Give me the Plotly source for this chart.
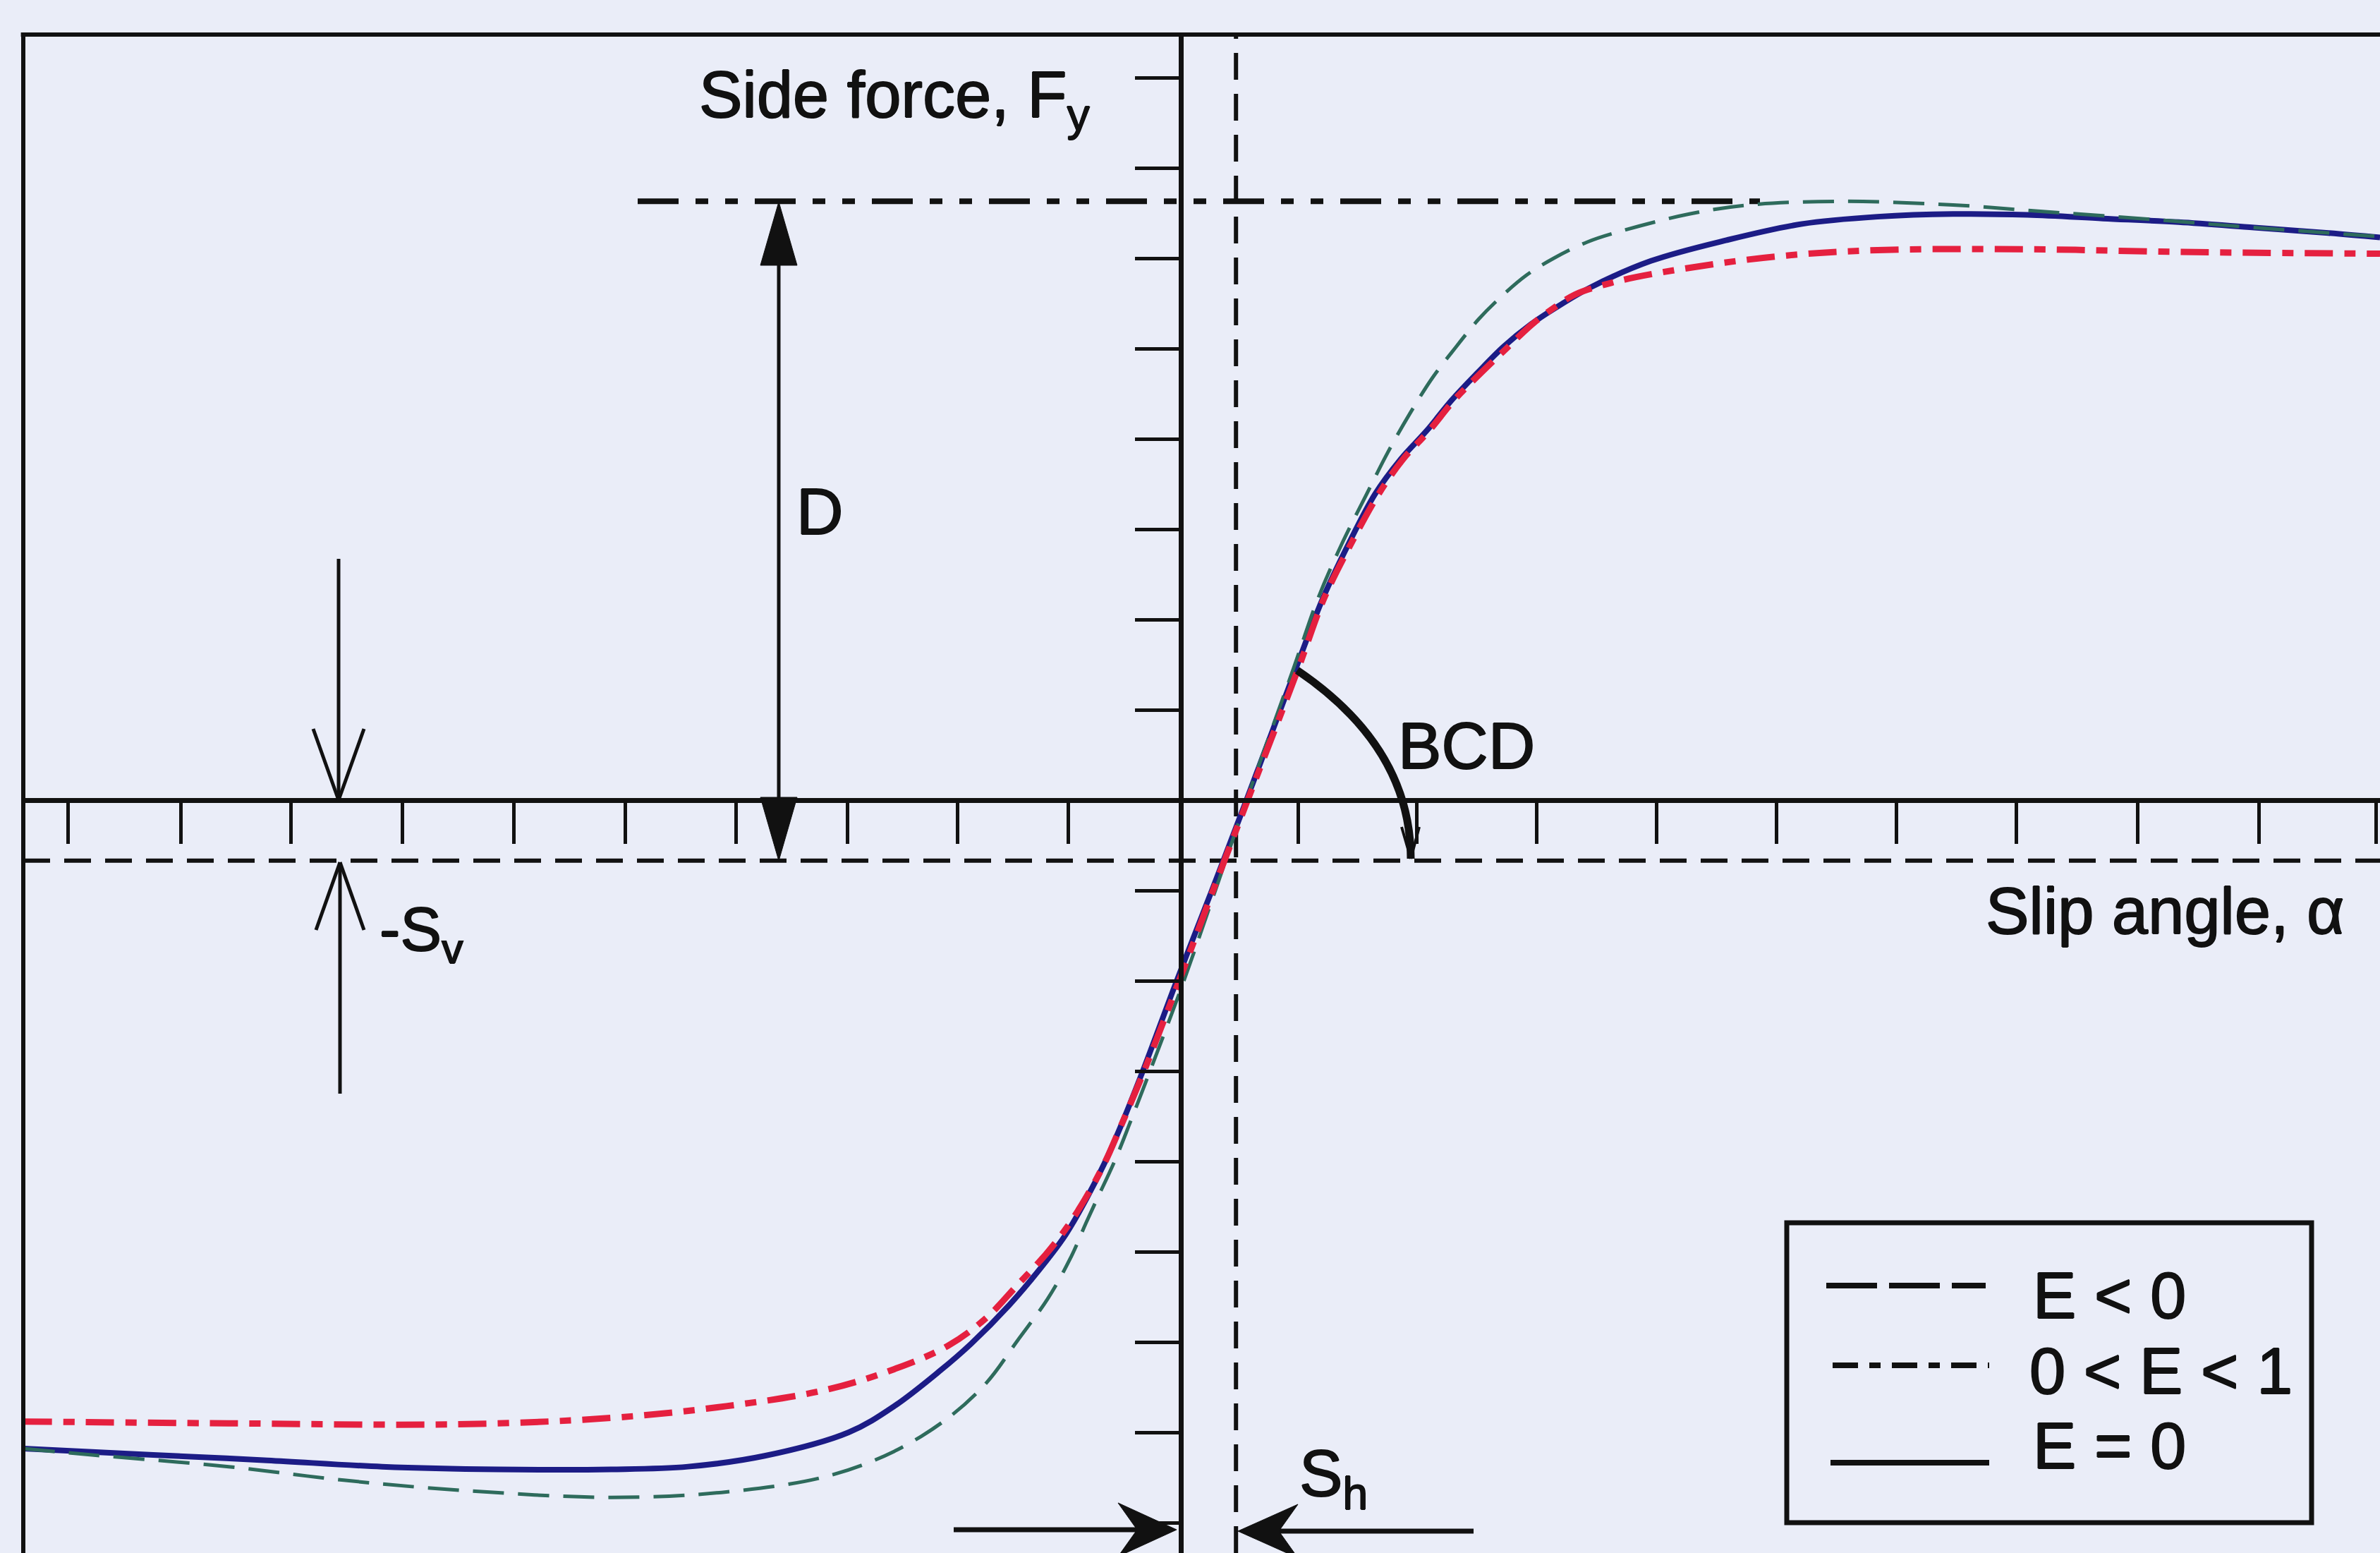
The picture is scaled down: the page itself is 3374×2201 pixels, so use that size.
import plotly.graph_objects as go

# ---------------- data ----------------
# x in slip-angle tick units (origin = solid vertical axis), y in side-force tick units
x_e_neg = [-9.65, -9.08, -7.94, -6.98, -6.02, -4.75, -3.79, -2.96, -2.39, -1.94, -1.62, -1.36,
           -1.11, -0.92, -0.79, -0.70, -0.55, -0.42, -0.26, 0.02, 0.28, 0.55, 0.94, 1.14, 1.34,
           1.55, 1.73, 1.91, 2.10, 2.29, 2.48, 2.66, 2.88, 3.11, 3.39, 3.67, 4.24, 4.74, 5.49,
           6.44, 7.06, 8.00, 8.95, 10.00]
y_e_neg = [-7.18, -7.25, -7.38, -7.53, -7.64, -7.72, -7.66, -7.49, -7.21, -6.84, -6.45, -5.98,
           -5.52, -5.07, -4.68, -4.42, -3.99, -3.56, -3.01, -2.02, -1.03, 0.01, 1.46, 2.22, 2.83,
           3.39, 3.86, 4.28, 4.68, 5.01, 5.32, 5.56, 5.81, 6.00, 6.18, 6.30, 6.49, 6.59, 6.63,
           6.59, 6.53, 6.44, 6.34, 6.24]

x_e_mid = [-9.65, -7.94, -6.02, -4.75, -3.79, -2.96, -2.39, -1.94, -1.62, -1.37, -1.12, -0.95,
           -0.80, -0.64, -0.51, -0.31, -0.02, 0.26, 0.56, 0.98, 1.19, 1.42, 1.65, 1.85, 2.07,
           2.28, 2.51, 2.73, 2.93, 3.11, 3.29, 3.54, 3.79, 4.42, 5.05, 5.81, 7.06, 8.32, 10.00]
y_e_mid = [-6.88, -6.90, -6.91, -6.84, -6.71, -6.53, -6.30, -6.04, -5.73, -5.38, -5.02, -4.73,
           -4.42, -4.03, -3.64, -3.01, -2.02, -1.03, 0.01, 1.46, 2.22, 2.84, 3.39, 3.77, 4.09,
           4.43, 4.74, 5.02, 5.27, 5.45, 5.60, 5.71, 5.79, 5.93, 6.03, 6.09, 6.10, 6.07, 6.05]

x_e_zero = [-9.65, -8.57, -7.62, -6.66, -5.70, -4.75, -4.11, -3.47, -2.77, -2.39, -2.01, -1.75,
            -1.43, -1.18, -0.96, -0.79, -0.64, -0.51, -0.32, -0.04, 0.25, 0.55, 0.96, 1.18,
            1.40, 1.62, 1.83, 2.05, 2.26, 2.48, 2.69, 2.92, 3.16, 3.42, 3.92, 4.55, 5.18, 5.81,
            6.44, 7.06, 7.69, 8.32, 8.95, 9.57, 10.00]
y_e_zero = [-7.18, -7.25, -7.31, -7.38, -7.41, -7.41, -7.38, -7.26, -7.00, -6.71, -6.32, -6.02,
            -5.59, -5.20, -4.81, -4.42, -4.03, -3.64, -3.01, -2.02, -1.03, 0.01, 1.46, 2.22,
            2.84, 3.39, 3.77, 4.09, 4.43, 4.74, 5.02, 5.27, 5.48, 5.68, 5.97, 6.20, 6.38, 6.46,
            6.49, 6.48, 6.44, 6.40, 6.34, 6.28, 6.23]

series_names = ["E < 0", "0 < E < 1", "E = 0"]

x_tick_positions = [-9.28, -8.34, -7.42, -6.49, -5.56, -4.63, -3.71, -2.78, -1.86, -0.94,
                    0.98, 1.97, 2.97, 3.97, 4.97, 5.97, 6.97, 7.98, 8.99, 9.97]
y_tick_positions = [-8, -7, -6, -5, -4, -3, -2, -1, 1, 2, 3, 4, 5, 6, 7, 8]

peak_D = 6.63      # level of the peak (dash-dot line)
shift_v = -0.67    # Sv offset (dashed horizontal)
shift_h = 0.46     # Sh offset (dashed vertical)

# ---------------- geometry / style ----------------
W, H = 3374, 2201
OX, OY = 1674.0, 1134.0    # pixel position of the axes origin
SX, SY = 170.0, 128.0      # pixels per unit
FRAME_L, FRAME_T = 33.0, 49.0

def dx(px):
    return (px - OX) / SX

def dy(py):
    return (OY - py) / SY

x_range = [dx(FRAME_L), dx(W)]
y_range = [dy(H), dy(FRAME_T)]
x_dom = [FRAME_L / W, 1.0]
y_dom = [0.0, 1.0 - FRAME_T / H]
pos_y_axis = x_dom[0] + (0 - x_range[0]) / (x_range[1] - x_range[0]) * (x_dom[1] - x_dom[0])
pos_x_axis = y_dom[0] + (0 - y_range[0]) / (y_range[1] - y_range[0]) * (y_dom[1] - y_dom[0])

INK = "#111111"
BG = "#EAEDF8"
C_NEG = "#2E6B5C"
C_MID = "#E5203F"
C_ZERO = "#1C1C86"
FONT = "Liberation Sans, Arial, Helvetica, sans-serif"
TEXT_SHADOW = "0.9px 0 0 #111111, -0.9px 0 0 #111111, 0 0.9px 0 #111111, 0 -0.9px 0 #111111"

fig = go.Figure()
fig.add_trace(go.Scatter(x=x_e_zero, y=y_e_zero, mode="lines", name=series_names[2],
                         line=dict(color=C_ZERO, width=8, shape="spline", smoothing=1.0),
                         showlegend=False))
fig.add_trace(go.Scatter(x=x_e_neg, y=y_e_neg, mode="lines", name=series_names[0],
                         line=dict(color=C_NEG, width=5, dash="44px,20px", shape="spline", smoothing=1.0),
                         showlegend=False))
fig.add_trace(go.Scatter(x=x_e_mid, y=y_e_mid, mode="lines", name=series_names[1],
                         line=dict(color=C_MID, width=9, dash="40px,16px,16px,16px", shape="spline", smoothing=1.0),
                         showlegend=False))

shapes = []

def seg(p0, p1, w, dash=None, color=INK):
    ln = dict(color=color, width=w)
    if dash:
        ln["dash"] = dash
    return dict(type="line", xref="x", yref="y", x0=dx(p0[0]), y0=dy(p0[1]),
                x1=dx(p1[0]), y1=dy(p1[1]), line=ln, layer="above")

def poly(points):
    path = "M " + " L ".join(f"{dx(px):.4f},{dy(py):.4f}" for px, py in points) + " Z"
    return dict(type="path", xref="x", yref="y", path=path, fillcolor=INK,
                line=dict(color=INK, width=1), layer="above")

# frame (left and top)
shapes.append(dict(type="line", xref="paper", yref="paper", x0=x_dom[0], x1=x_dom[0],
                   y0=-0.02, y1=y_dom[1], line=dict(color=INK, width=6)))
shapes.append(dict(type="line", xref="paper", yref="paper", x0=x_dom[0] - 0.001, x1=1.02,
                   y0=y_dom[1], y1=y_dom[1], line=dict(color=INK, width=6)))

# offset lines
shapes.append(dict(type="line", xref="x", yref="y", x0=shift_h, x1=shift_h, y0=y_range[0], y1=y_range[1],
                   line=dict(color=INK, width=6, dash="38px,20px"), layer="below"))
shapes.append(dict(type="line", xref="x", yref="y", x0=x_range[0], x1=x_range[1], y0=shift_v, y1=shift_v,
                   line=dict(color=INK, width=6, dash="38px,20px"), layer="below"))
# peak level dash-dot-dot
shapes.append(dict(type="line", xref="x", yref="y", x0=dx(904), x1=dx(2495), y0=peak_D, y1=peak_D,
                   line=dict(color=INK, width=8, dash="58px,24px,18px,24px,18px,24px"), layer="below"))

# D double arrow
shapes.append(seg((1104, 360), (1104, 1140), 5))
shapes.append(poly([(1104, 286), (1078, 376), (1130, 376)]))
shapes.append(poly([(1104, 1220), (1078, 1130), (1130, 1130)]))

# Sv arrows (open heads)
shapes.append(seg((480, 792), (480, 1134), 5))
shapes.append(seg((444, 1033), (480, 1134), 5))
shapes.append(seg((516, 1033), (480, 1134), 5))
shapes.append(seg((482, 1550), (482, 1222), 5))
shapes.append(seg((448, 1318), (482, 1222), 5))
shapes.append(seg((516, 1318), (482, 1222), 5))

# Sh arrows
shapes.append(seg((1352, 2168), (1630, 2168), 7))
shapes.append(poly([(1668, 2168), (1585, 2130), (1612, 2168), (1585, 2206)]))
shapes.append(seg((2089, 2170), (1795, 2170), 7))
shapes.append(poly([(1755, 2170), (1840, 2132), (1813, 2170), (1840, 2208)]))

# BCD arc
shapes.append(dict(type="path", xref="x", yref="y",
                   path=f"M {dx(1839):.4f},{dy(950):.4f} Q {dx(2000):.4f},{dy(1059):.4f} {dx(2000):.4f},{dy(1217):.4f}",
                   line=dict(color=INK, width=11), layer="above"))
shapes.append(seg((1987, 1172), (2000, 1217), 4))
shapes.append(seg((2012, 1172), (2000, 1217), 4))

# legend box (drawn by hand, black samples as in the original)
shapes.append(dict(type="rect", xref="x", yref="y", x0=dx(2533), x1=dx(3277), y0=dy(1733), y1=dy(2158),
                   line=dict(color=INK, width=7), fillcolor="rgba(0,0,0,0)", layer="above"))
shapes.append(seg((2589, 1822), (2815, 1822), 8, dash="72px,17px"))
shapes.append(seg((2598, 1935), (2820, 1935), 8, dash="36px,16px,16px,16px"))
shapes.append(seg((2595, 2073), (2820, 2073), 8))

annotations = []

def label(text, px, py, xanchor="left", size=92):
    annotations.append(dict(text=text, x=dx(px), y=dy(py), xref="x", yref="y",
                            xanchor=xanchor, yanchor="middle", showarrow=False,
                            font=dict(family=FONT, size=size, color=INK, shadow=TEXT_SHADOW)))

label("Side force, F<sub>y</sub>", 1548, 141, xanchor="right")
label("Slip angle, α", 3325, 1291, xanchor="right")
label("D", 1162, 725, xanchor="center")
label("-S<sub>v</sub>", 536, 1322, xanchor="left", size=88)
label("S<sub>h</sub>", 1840, 2095, xanchor="left")
label("BCD", 1980, 1057, xanchor="left")
label(series_names[0], 2880, 1836)
label(series_names[1], 2875, 1943)
label(series_names[2], 2880, 2049)

fig.update_layout(
    width=W, height=H,
    margin=dict(l=0, r=0, t=0, b=0),
    paper_bgcolor=BG, plot_bgcolor=BG,
    showlegend=False,
    shapes=shapes,
    annotations=annotations,
    xaxis=dict(range=x_range, domain=x_dom, anchor="free", position=pos_x_axis, side="bottom",
               showline=True, linecolor=INK, linewidth=7,
               ticks="outside", tickvals=x_tick_positions, ticklen=58, tickwidth=5, tickcolor=INK,
               showticklabels=False, showgrid=False, zeroline=False, automargin=False),
    yaxis=dict(range=y_range, domain=y_dom, anchor="free", position=pos_y_axis, side="left",
               showline=True, linecolor=INK, linewidth=7,
               ticks="outside", tickvals=y_tick_positions, ticklen=62, tickwidth=5, tickcolor=INK,
               showticklabels=False, showgrid=False, zeroline=False, automargin=False),
)

fig.write_html("out.html")
